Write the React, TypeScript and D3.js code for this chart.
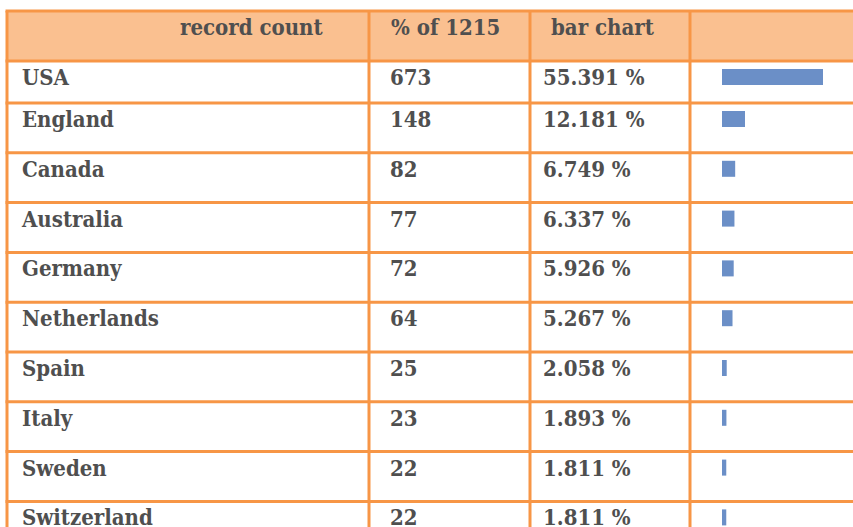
import * as d3 from "d3";

const countries = [
  "USA",
  "England",
  "Canada",
  "Australia",
  "Germany",
  "Netherlands",
  "Spain",
  "Italy",
  "Sweden",
  "Switzerland",
];
const counts = [673, 148, 82, 77, 72, 64, 25, 23, 22, 22];
const percents = [
  "55.391 %",
  "12.181 %",
  "6.749 %",
  "6.337 %",
  "5.926 %",
  "5.267 %",
  "2.058 %",
  "1.893 %",
  "1.811 %",
  "1.811 %",
];
const headers = ["record count", "% of 1215", "bar chart", ""];

export default function App() {
  const width = 853;
  const height = 527;
  const orange = "#F79646";
  const headerFill = "#FAC090";
  const textColor = "#4f4f4f";
  const barColor = "#6B8FC7";
  const font = '"DejaVu Serif Condensed", "DejaVu Serif", serif';
  const fontSize = 22;

  const tableTop = 11;
  const headerBottom = 61;
  const firstRowBottom = 103;
  const rowH = 49.8;

  // column edges
  const colX = [7, 369, 530, 690];
  const textOffset = [15, 21, 13, 0];
  const headerX = [180, 391, 551, 0];

  // row top edge for data rows
  const rowTop = (i: number) =>
    i === 0 ? headerBottom : firstRowBottom + (i - 1) * rowH;

  const xBar = d3
    .scaleLinear()
    .domain([0, d3.max(counts)!])
    .range([1, 101]);

  const hLines = [tableTop, headerBottom, ...countries.map((_, i) => rowTop(i + 1))];

  return (
    <svg
      width={width}
      height={height}
      style={{
        position: "absolute",
        left: 0,
        top: 0,
        background: "#fff",
      }}
    >
      {/* header band */}
      <rect
        x={colX[0]}
        y={tableTop}
        width={width - colX[0]}
        height={headerBottom - tableTop}
        fill={headerFill}
      />
      <g fill={textColor} fontFamily={font} fontWeight="bold" fontSize={fontSize}>
        {headers.map((h, i) =>
          h ? (
            <text key={i} x={headerX[i]} y={tableTop + 24}>
              {h}
            </text>
          ) : null
        )}
      </g>

      {/* rows */}
      {countries.map((c, i) => {
        const top = rowTop(i);
        const base = top + 24;
        return (
          <g key={c} fill={textColor} fontFamily={font} fontWeight="bold" fontSize={fontSize}>
            <text x={colX[0] + textOffset[0]} y={base}>
              {c}
            </text>
            <text x={colX[1] + textOffset[1]} y={base}>
              {counts[i]}
            </text>
            <text x={colX[2] + textOffset[2]} y={base}>
              {percents[i]}
            </text>
            <rect
              x={722}
              y={top + 8}
              width={xBar(counts[i])}
              height={16}
              fill={barColor}
            />
          </g>
        );
      })}

      {/* grid */}
      <g stroke={orange} strokeWidth={3}>
        {hLines.map((y, i) => (
          <line key={"h" + i} x1={colX[0] - 1.5} x2={width} y1={y} y2={y} />
        ))}
        {colX.map((x, i) => (
          <line key={"v" + i} x1={x} x2={x} y1={tableTop} y2={height} />
        ))}
      </g>
    </svg>
  );
}
